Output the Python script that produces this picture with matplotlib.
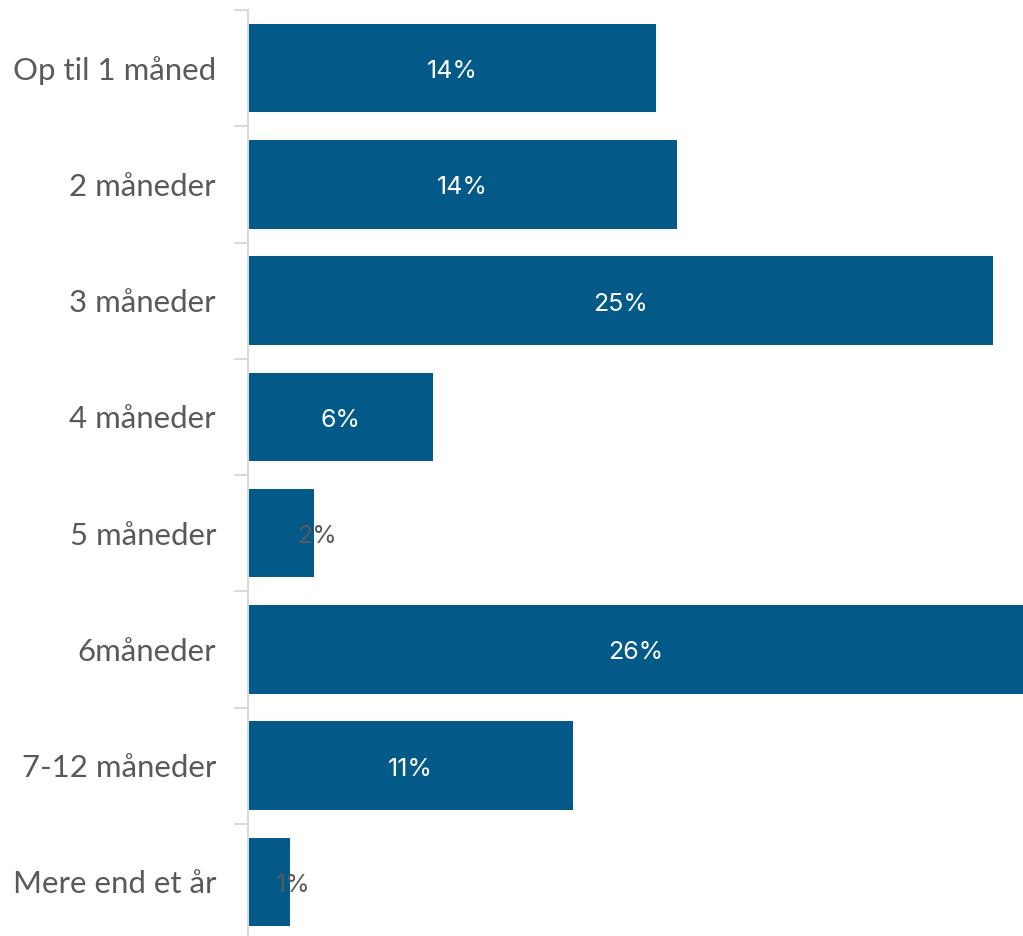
import matplotlib.pyplot as plt
import numpy as np

# Varighed - kategorier og andele (%)
kategorier = ['Op til 1 måned', '2 måneder', '3 måneder', '4 måneder',
              '5 måneder', '6måneder', '7-12 måneder', 'Mere end et år']
andele = [13.7, 14.4, 25.0, 6.2, 2.2, 26.0, 10.9, 1.4]
etiketter = ['14%', '14%', '25%', '6%', '2%', '26%', '11%', '1%']

bar_farve = '#035a89'
tekst_farve = '#595959'
akse_farve = '#d9d9d9'

fig = plt.figure(figsize=(10.23, 9.36), dpi=100)
ax = fig.add_axes([248 / 1023, -4 / 936, 775 / 1023, 930 / 936])

y = np.arange(len(kategorier))
ax.barh(y, andele, height=0.76, color=bar_farve)

# Værdietiketter: hvide i bjælken, grå hvis bjælken er for smal
for yi, v, lab in zip(y, andele, etiketter):
    if v > 4:
        ax.text(v / 2, yi + 0.03, lab, ha='center', va='center', color='white',
                fontsize=18, family='Inter')
    else:
        ax.text(v + 0.1, yi + 0.03, lab, ha='center', va='center', color=tekst_farve,
                fontsize=18, family='Inter')

ax.set_xlim(0, 26.0)
ax.set_ylim(len(kategorier) - 0.5, -0.5)
ax.set_yticks(y)
ax.set_yticklabels(kategorier, fontsize=22.4, color=tekst_farve, family='Lato')
ax.set_yticks(np.arange(-0.5, len(kategorier)), minor=True)
ax.tick_params(axis='y', which='major', length=0, pad=23)
ax.tick_params(axis='y', which='minor', length=10, width=1.5, color=akse_farve)
ax.set_xticks([])

for side in ['top', 'right', 'bottom']:
    ax.spines[side].set_visible(False)
ax.spines['left'].set_color(akse_farve)
ax.spines['left'].set_linewidth(1.5)

fig.savefig('out.png', dpi=100)
